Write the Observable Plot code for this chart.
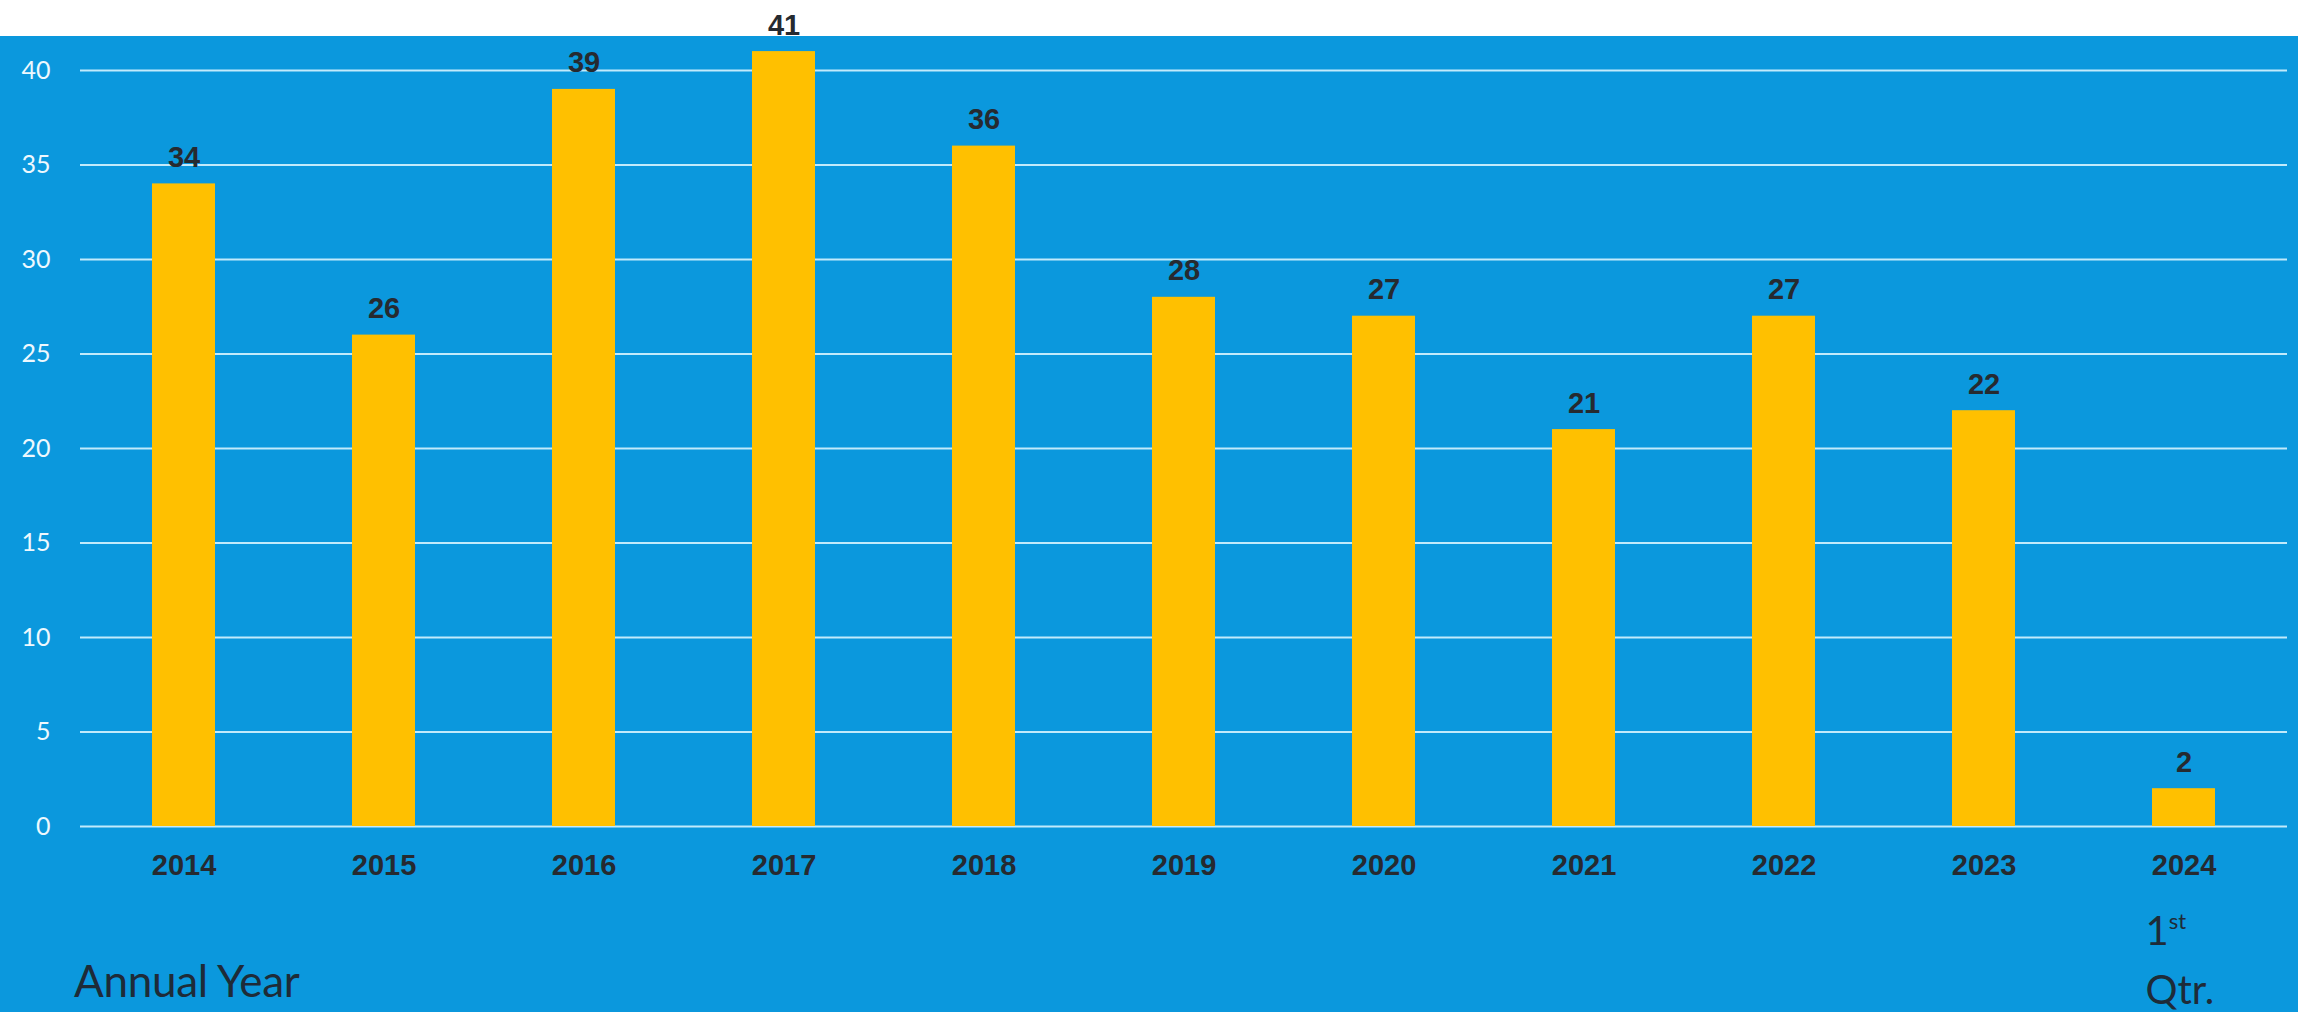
<!DOCTYPE html>
<html>
<head>
<meta charset="utf-8">
<script src="https://cdn.jsdelivr.net/npm/d3@7"></script>
<script src="https://cdn.jsdelivr.net/npm/@observablehq/plot@0.6"></script>
<style>
  html, body { margin: 0; padding: 0; background: #ffffff; }
  #wrap { position: relative; width: 2298px; height: 1012px; overflow: hidden; }
  .note { position: absolute; font-family: Lato, "Open Sans", sans-serif; color: #1e2b38; white-space: nowrap; }
  .note sup { font-size: 0.55em; vertical-align: 0; position: relative; top: -0.75em; }
</style>
</head>
<body>
<div id="wrap"></div>
<script>
const years = ["2014","2015","2016","2017","2018","2019","2020","2021","2022","2023","2024"];
const counts = [34, 26, 39, 41, 36, 28, 27, 21, 27, 22, 2];
const yTicks = [0, 5, 10, 15, 20, 25, 30, 35, 40];
const xTitle = "Annual Year";
const lastNote = ["1", "st", "Qtr."];

const data = years.map((y, i) => ({year: y, count: counts[i]}));

const blue = "#0b98dd";
const gold = "#ffc000";
const dark = "#262a30";

const chart = Plot.plot({
  width: 2298,
  height: 1012,
  marginLeft: 80,
  marginRight: 11,
  marginTop: 70,
  marginBottom: 186,
  style: {
    background: `linear-gradient(to bottom, #ffffff 0px, #ffffff 36px, ${blue} 36px, ${blue} 100%)`,
    fontFamily: "'Liberation Sans', Arial, sans-serif",
    overflow: "visible"
  },
  x: {domain: years, paddingInner: 0.686, paddingOuter: 0.343, label: null},
  y: {domain: [0, 40], label: null},
  marks: [
    Plot.gridY(yTicks, {stroke: "#c2eafb", strokeOpacity: 1, strokeWidth: 2}),
    Plot.barY(data, {x: "year", y: "count", fill: gold}),
    Plot.text(data, {
      x: "year", y: "count", text: d => String(d.count),
      lineAnchor: "bottom", dy: -17,
      fontSize: 29, fontWeight: "bold", fill: dark
    }),
    Plot.axisX({
      tickSize: 0, tickPadding: 28, fontSize: 29, fontWeight: "bold",
      color: dark, label: null
    }),
    Plot.axisY(yTicks, {
      tickSize: 0, tickPadding: 30, fontSize: 25,
      fontFamily: "Lato, 'Open Sans', sans-serif",
      color: "#eef8fe", label: null
    })
  ]
});

const wrap = document.getElementById("wrap");
wrap.appendChild(chart);

// notes below the axis, positioned from the chart's own x scale
const xs = chart.scale("x");
const last = xs.apply(years[years.length - 1]) + xs.bandwidth / 2;

const t1 = document.createElement("div");
t1.className = "note";
t1.style.fontSize = "44px";
t1.style.left = "74px";
t1.style.top = "954px";
t1.style.letterSpacing = "-0.3px";
t1.textContent = xTitle;
wrap.appendChild(t1);

const t2 = document.createElement("div");
t2.className = "note";
t2.style.fontSize = "40px";
t2.style.lineHeight = "52px";
t2.style.left = (last - 38) + "px";
t2.style.top = "904px";
t2.innerHTML = `${lastNote[0]}<sup>${lastNote[1]}</sup><br>${lastNote[2]}`;
wrap.appendChild(t2);
</script>
</body>
</html>
